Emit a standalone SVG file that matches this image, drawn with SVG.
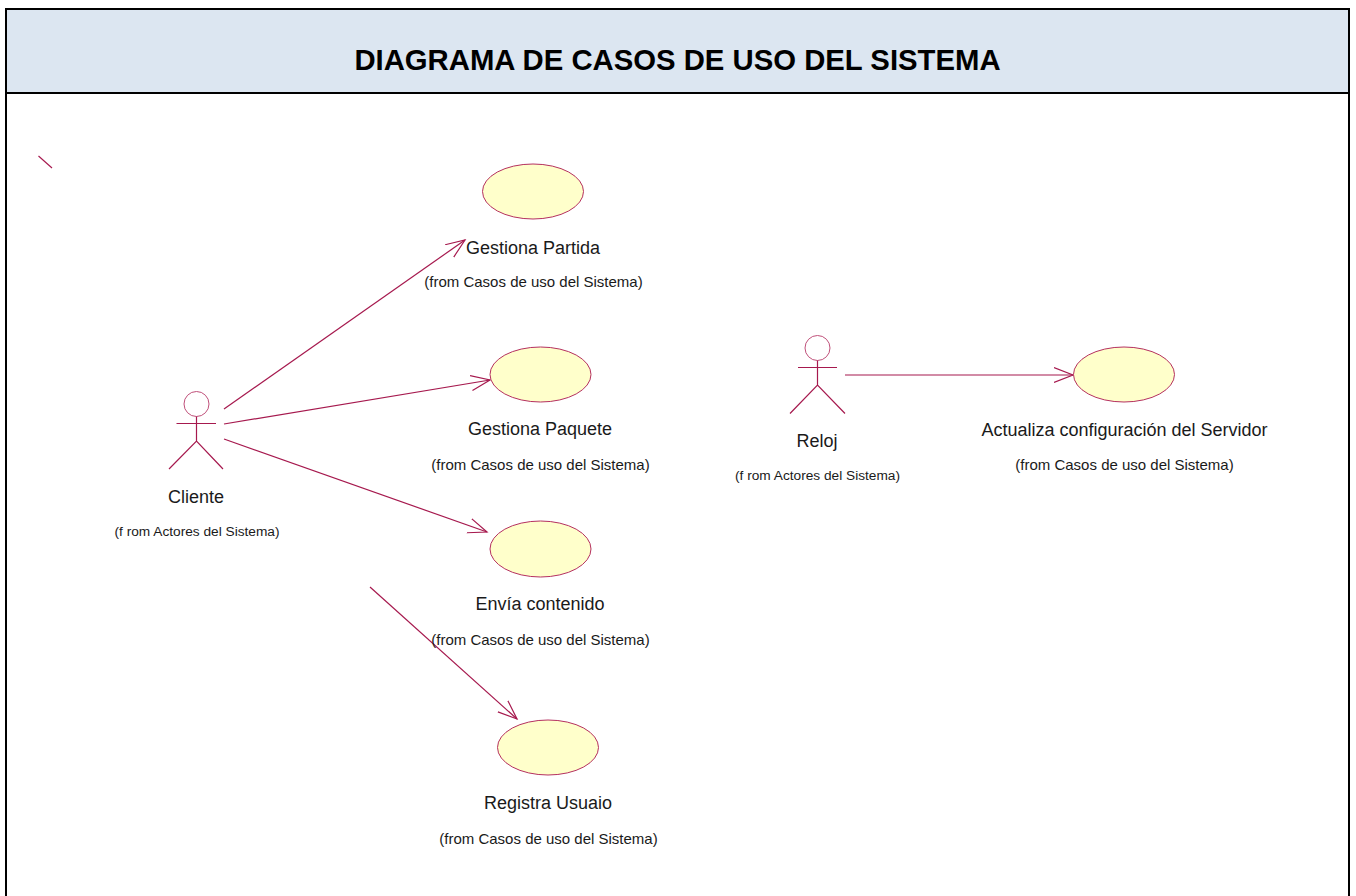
<svg xmlns="http://www.w3.org/2000/svg" width="1356" height="896" viewBox="0 0 1356 896">
<style>
text{font-family:"Liberation Sans",Arial,sans-serif;fill:#1a1a1a;text-anchor:middle}
.t{font-size:29.3px;font-weight:bold;fill:#000}
.n{font-size:18px}
.f{font-size:15px}
.a{font-size:13.7px}
.c{stroke:#a6194e;stroke-width:1.2;fill:none}
.u{stroke:#b5305f;stroke-width:1;fill:#ffffcb}
.h{stroke:#c0507a;stroke-width:1;fill:#fff}
</style>
<defs>
<marker id="arrow" markerUnits="userSpaceOnUse" markerWidth="24" markerHeight="20" refX="19" refY="10" orient="auto"><path d="M0 2.5L19 10L0 17.5" fill="none" stroke="#a6194e" stroke-width="1.2"/></marker>
</defs>
<rect x="0" y="0" width="1356" height="896" fill="#fff"/>
<g id="frame">
<rect x="6" y="9" width="1343" height="84" fill="#dce6f1" stroke="#000" stroke-width="2"/>
<path d="M6 93V896M1349 93V896" stroke="#000" stroke-width="2" fill="none"/>
<text class="t" x="677.5" y="70">DIAGRAMA DE CASOS DE USO DEL SISTEMA</text>
</g>
<g id="connectors">
<path class="c" d="M38.5 156L52 168"/>
<path class="c" d="M224 409L465 240" marker-end="url(#arrow)"/>
<path class="c" d="M224 424L490 380" marker-end="url(#arrow)"/>
<path class="c" d="M224 439L487 532" marker-end="url(#arrow)"/>
<path class="c" d="M370 587L517 719" marker-end="url(#arrow)"/>
<path class="c" d="M845 375L1073 375" marker-end="url(#arrow)"/>
</g>
<g id="actor-cliente">
<circle class="h" cx="196.5" cy="404" r="12.5"/>
<path class="c" d="M176.5 423.5H216M196.5 416.5V441M169 469L196.5 441L223 469"/>
<text class="n" x="196" y="503">Cliente</text>
<text class="a" x="197" y="536">(f rom Actores del Sistema)</text>
</g>
<g id="actor-reloj">
<circle class="h" cx="817.5" cy="348" r="12.5"/>
<path class="c" d="M798 367.5H837M817.5 360.5V385M790 413.5L817.5 385L845 413.5"/>
<text class="n" x="817" y="447">Reloj</text>
<text class="a" x="817.5" y="480">(f rom Actores del Sistema)</text>
</g>
<g id="uc-gestiona-partida">
<ellipse class="u" cx="533" cy="191.5" rx="50.5" ry="27.5"/>
<text class="n" x="533" y="254">Gestiona Partida</text>
<text class="f" x="533.5" y="287">(from Casos de uso del Sistema)</text>
</g>
<g id="uc-gestiona-paquete">
<ellipse class="u" cx="540.5" cy="374.5" rx="50.5" ry="27.5"/>
<text class="n" x="540" y="435">Gestiona Paquete</text>
<text class="f" x="540.5" y="470">(from Casos de uso del Sistema)</text>
</g>
<g id="uc-envia-contenido">
<ellipse class="u" cx="540.5" cy="549" rx="50.5" ry="28"/>
<text class="n" x="540" y="610">Envía contenido</text>
<text class="f" x="540.5" y="645">(from Casos de uso del Sistema)</text>
</g>
<g id="uc-registra-usuaio">
<ellipse class="u" cx="548" cy="747.5" rx="50.5" ry="27.5"/>
<text class="n" x="548" y="809">Registra Usuaio</text>
<text class="f" x="548.5" y="844">(from Casos de uso del Sistema)</text>
</g>
<g id="uc-actualiza">
<ellipse class="u" cx="1124" cy="374.5" rx="50.5" ry="27.5"/>
<text class="n" x="1124.5" y="436">Actualiza configuración del Servidor</text>
<text class="f" x="1124.5" y="470">(from Casos de uso del Sistema)</text>
</g>
</svg>
